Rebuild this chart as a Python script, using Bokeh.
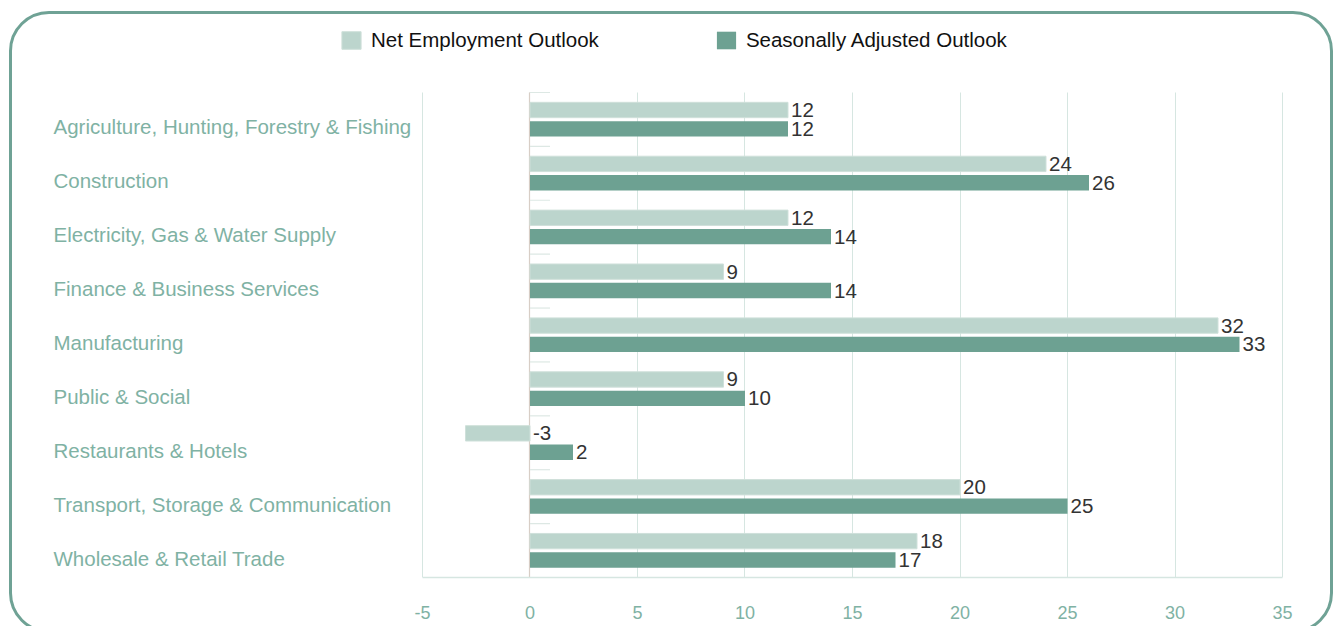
import numpy as np
from bokeh.plotting import figure
from bokeh.models import (Range1d, FixedTicker, Legend, LegendItem, Grid,
                          ColumnDataSource, InlineStyleSheet)
from bokeh.core.properties import value
from bokeh.embed import file_html
from bokeh.resources import INLINE

categories = [
    "Agriculture, Hunting, Forestry & Fishing",
    "Construction",
    "Electricity, Gas & Water Supply",
    "Finance & Business Services",
    "Manufacturing",
    "Public & Social",
    "Restaurants & Hotels",
    "Transport, Storage & Communication",
    "Wholesale & Retail Trade",
]
net_outlook = [12, 24, 12, 9, 32, 9, -3, 20, 18]
seasonal_outlook = [12, 26, 14, 14, 33, 10, 2, 25, 17]
x_ticks = [-5, 0, 5, 10, 15, 20, 25, 30, 35]
series_names = ["Net Employment Outlook", "Seasonally Adjusted Outlook"]

LIGHT = "#bcd5cd"
DARK = "#6da192"
TEAL_TEXT = "#7fb2a4"
GRID = "#d6e6e1"
BORDER = "#6fa295"
FONT = "Liberation Sans"

n = len(categories)
idx = np.arange(n)

W, H = 1337, 626
x_lo, x_hi = -22.767, 35.837
y_bottom, y_top = n - 0.5, -0.5
y_view_top = y_top - 92 / 53.9   # room above the bars for the legend

border_css = InlineStyleSheet(css=f"""
:host {{ position: relative; overflow: hidden; }}
:host::after {{
  content: ""; position: absolute; left: 9px; top: 11px;
  width: 1324px; height: 622px; box-sizing: border-box;
  border: 3.5px solid {BORDER}; border-radius: 40px;
  pointer-events: none; z-index: 10;
}}
""")

p = figure(width=W, height=H, output_backend="svg", toolbar_location=None,
           x_range=Range1d(x_lo, x_hi), y_range=Range1d(y_bottom, y_view_top),
           y_axis_location=None, min_border_left=40, min_border_right=37,
           min_border_top=0, min_border_bottom=49, stylesheets=[border_css])
p.outline_line_color = None
p.background_fill_color = None
p.border_fill_color = "white"
p.ygrid.visible = False

# x axis & grid
xa = p.xaxis[0]
xa.ticker = FixedTicker(ticks=x_ticks)
xa.bounds = (x_ticks[0], x_ticks[-1])
xa.major_label_overrides = {t: str(t) for t in x_ticks}
xa.axis_line_color = GRID
xa.axis_line_width = 1.5
xa.major_tick_line_color = None
xa.minor_tick_line_color = None
xa.major_label_text_color = TEAL_TEXT
xa.major_label_text_font = FONT
xa.major_label_text_font_size = "18px"
xa.major_label_standoff = 22
p.xgrid.ticker = FixedTicker(ticks=x_ticks)
p.xgrid.bounds = (x_ticks[0], x_ticks[-1])
p.xgrid.cross_bounds = (y_bottom, y_top)
p.xgrid.grid_line_color = GRID
p.xgrid.grid_line_width = 1

# zero line
zero = Grid(dimension=0, ticker=FixedTicker(ticks=[0]), cross_bounds=(y_bottom, y_top),
            grid_line_color="#d8cec6", grid_line_width=1.2)
p.add_layout(zero)

# small separators between categories
bounds_y = np.arange(n + 1) - 0.5
p.ray(x=np.zeros(n + 1), y=bounds_y, length=20, length_units="screen", angle=0,
      line_color="#dde8e4", line_width=1.2)

off = 0.175
bh = 0.285
r1 = p.hbar(y=idx - off, left=0, right=net_outlook, height=bh,
            fill_color=LIGHT, line_color="#cfe0da", line_width=1)
r2 = p.hbar(y=idx + off, left=0, right=seasonal_outlook, height=bh,
            fill_color=DARK, line_color=None)

# value labels
src1 = ColumnDataSource(dict(x=np.maximum(net_outlook, 0), y=idx - off,
                             t=[str(v) for v in net_outlook]))
src2 = ColumnDataSource(dict(x=np.maximum(seasonal_outlook, 0), y=idx + off,
                             t=[str(v) for v in seasonal_outlook]))
for s in (src1, src2):
    p.text(x="x", y="y", text="t", source=s, x_offset=3, text_baseline="middle",
           text_align="left", text_color="#333333", text_font=value(FONT),
           text_font_size="20.5px")

# category labels (left aligned)
csrc = ColumnDataSource(dict(x=[x_lo] * n, y=idx + 0.14, t=categories))
p.text(x="x", y="y", text="t", source=csrc, x_offset=13, text_baseline="middle",
       text_align="left", text_color=TEAL_TEXT, text_font=value(FONT),
       text_font_size="20.5px")

legend = Legend(items=[LegendItem(label=series_names[0], renderers=[r1]),
                       LegendItem(label=series_names[1], renderers=[r2])],
                orientation="horizontal", location=(299, 525),
                glyph_width=24, glyph_height=22, label_standoff=8, spacing=115,
                padding=0, margin=0, border_line_color=None,
                background_fill_alpha=0, label_text_font=FONT,
                label_text_font_size="20.5px", label_text_color="#111111",
                label_height=22)
p.add_layout(legend)

open("out.html", "w").write(file_html(p, INLINE))
